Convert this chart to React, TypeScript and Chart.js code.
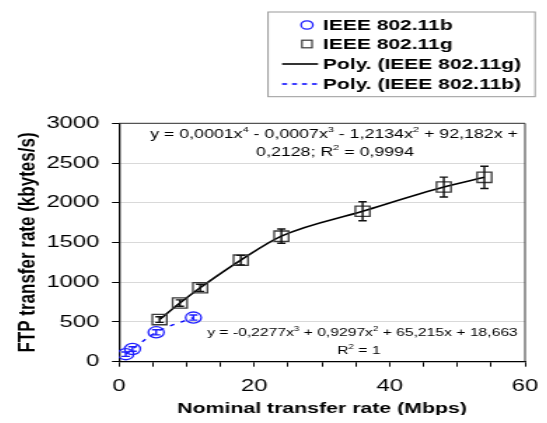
import React, { useEffect, useRef } from 'react';
import { Chart, registerables } from 'chart.js';

Chart.register(...registerables);

const FONT = "'Liberation Sans', Arial, Helvetica, sans-serif";
Chart.defaults.font.family = FONT;
Chart.defaults.color = '#000';

// ---- data ----
const gRates = [6, 9, 12, 18, 24, 36, 48, 54];
const gThroughput = [530, 738, 930, 1278, 1580, 1893, 2198, 2320];
const gError = [35, 40, 45, 60, 90, 120, 125, 140];

const bRates = [1, 2, 5.5, 11];
const bThroughput = [95, 160, 370, 555];
const bError = [28, 28, 32, 32];

const xLabelledTicks = [0, 20, 40, 60];
const yTickStep = 500;

const legendLabels = ['IEEE 802.11b', 'IEEE 802.11g', 'Poly. (IEEE 802.11g)', 'Poly. (IEEE 802.11b)'];

const xTitle = 'Nominal transfer rate (Mbps)';
const yTitle = 'FTP transfer rate (kbytes/s)';

type Seg = [string, boolean];
const eqGLine1: Seg[] = [['y = 0,0001x', false], ['4', true], [' - 0,0007x', false], ['3', true], [' - 1,2134x', false], ['2', true], [' + 92,182x +', false]];
const eqGLine2: Seg[] = [['0,2128; R', false], ['2', true], [' = 0,9994', false]];
const eqBLine1: Seg[] = [['y = -0,2277x', false], ['3', true], [' + 0,9297x', false], ['2', true], [' + 65,215x + 18,663', false]];
const eqBLine2: Seg[] = [['R', false], ['2', true], [' = 1', false]];

const BLUE = '#1f1fff';
const SQUARE = '#3a3a3a';

// canvas is drawn narrower and stretched horizontally, like the reference
const CW = 379;
const CH = 407;
const CSSW = 531;

function drawRich(ctx: CanvasRenderingContext2D, segs: Seg[], cx: number, cy: number, size: number) {
  const main = `${size}px ${FONT}`;
  const sup = `${size * 0.62}px ${FONT}`;
  let total = 0;
  for (const [t, s] of segs) {
    ctx.font = s ? sup : main;
    total += ctx.measureText(t).width;
  }
  let x = cx - total / 2;
  ctx.textAlign = 'left';
  ctx.textBaseline = 'middle';
  ctx.fillStyle = '#000';
  for (const [t, s] of segs) {
    ctx.font = s ? sup : main;
    ctx.fillText(t, x, s ? cy - size * 0.33 : cy);
    x += ctx.measureText(t).width;
  }
}

const overlayPlugin = {
  id: 'overlay',
  afterDatasetsDraw(chart: any) {
    const ctx: CanvasRenderingContext2D = chart.ctx;
    const xs = chart.scales.x;
    const ys = chart.scales.y;
    const drawErr = (xv: number[], yv: number[], ev: number[], color: string) => {
      ctx.save();
      ctx.strokeStyle = color;
      ctx.lineWidth = 1.4;
      xv.forEach((x, i) => {
        const px = xs.getPixelForValue(x);
        const t = ys.getPixelForValue(yv[i] + ev[i]);
        const b = ys.getPixelForValue(yv[i] - ev[i]);
        ctx.beginPath();
        ctx.moveTo(px, t);
        ctx.lineTo(px, b);
        ctx.moveTo(px - 3, t);
        ctx.lineTo(px + 3, t);
        ctx.moveTo(px - 3, b);
        ctx.lineTo(px + 3, b);
        ctx.stroke();
      });
      ctx.restore();
    };
    drawErr(gRates, gThroughput, gError, '#111');
    drawErr(bRates, bThroughput, bError, BLUE);

    const { left, right, top, bottom } = chart.chartArea;
    ctx.save();
    ctx.strokeStyle = '#333';
    ctx.lineWidth = 1;
    ctx.beginPath();
    ctx.moveTo(left, top);
    ctx.lineTo(right, top);
    ctx.lineTo(right, bottom);
    ctx.stroke();
    ctx.restore();
  },
  afterDraw(chart: any) {
    const ctx: CanvasRenderingContext2D = chart.ctx;
    ctx.save();
    // legend box
    ctx.strokeStyle = '#999';
    ctx.lineWidth = 1;
    ctx.strokeRect(185.6, 4, 190.6, 84.7);
    const rows = [17, 36, 56, 76];
    const symX = 213.4;
    ctx.strokeStyle = BLUE;
    ctx.lineWidth = 1.3;
    ctx.beginPath();
    ctx.arc(symX, rows[0], 4.2, 0, Math.PI * 2);
    ctx.stroke();
    ctx.strokeStyle = SQUARE;
    ctx.lineWidth = 1.2;
    ctx.strokeRect(symX - 3.6, rows[1] - 3.8, 7.2, 7.6);
    ctx.strokeStyle = '#000';
    ctx.lineWidth = 1.6;
    ctx.beginPath();
    ctx.moveTo(195.6, rows[2]);
    ctx.lineTo(221.3, rows[2]);
    ctx.stroke();
    ctx.strokeStyle = '#0000ff';
    ctx.lineWidth = 1.3;
    ctx.setLineDash([3.6, 3.5]);
    ctx.beginPath();
    ctx.moveTo(195.6, rows[3]);
    ctx.lineTo(221.3, rows[3]);
    ctx.stroke();
    ctx.setLineDash([]);
    ctx.fillStyle = '#000';
    ctx.font = `bold 15px ${FONT}`;
    ctx.textAlign = 'left';
    ctx.textBaseline = 'middle';
    legendLabels.forEach((l, i) => ctx.fillText(l, 224.8, rows[i] + 0.5));

    // trendline equations
    drawRich(ctx, eqGLine1, 232.7, 126, 12.7);
    drawRich(ctx, eqGLine2, 233.4, 144, 12.7);
    drawRich(ctx, eqBLine1, 253, 325, 11.2);
    drawRich(ctx, eqBLine2, 250.5, 343, 11.2);
    ctx.restore();
  },
};

export default function App() {
  const ref = useRef<HTMLCanvasElement>(null);
  useEffect(() => {
    const canvas = ref.current!;
    const gPts = gRates.map((x, i) => ({ x, y: gThroughput[i] }));
    const bPts = bRates.map((x, i) => ({ x, y: bThroughput[i] }));
    const tickFont = { family: FONT, size: 17 };
    const chart = new Chart(canvas, {
      type: 'scatter',
      data: {
        datasets: [
          { type: 'line', label: legendLabels[2], data: gPts, borderColor: '#000', borderWidth: 1.6, pointRadius: 0, cubicInterpolationMode: 'monotone', fill: false, order: 3 } as any,
          { type: 'line', label: legendLabels[3], data: bPts, borderColor: '#0000ff', borderWidth: 1.3, borderDash: [3.5, 5], pointRadius: 0, cubicInterpolationMode: 'monotone', fill: false, order: 3 } as any,
          { label: legendLabels[1], data: gPts, pointStyle: 'rect', pointRadius: 7.3, borderColor: SQUARE, borderWidth: 1.3, backgroundColor: 'rgba(0,0,0,0)', order: 1 },
          { label: legendLabels[0], data: bPts, pointStyle: 'circle', pointRadius: 5.6, borderColor: BLUE, borderWidth: 1.3, backgroundColor: 'rgba(0,0,0,0)', order: 1 },
        ],
      },
      options: {
        animation: false,
        responsive: false,
        events: [],
        layout: { padding: { top: 115.3, right: 10, left: 0, bottom: 0 } },
        plugins: { legend: { display: false }, tooltip: { enabled: false } },
        scales: {
          x: {
            type: 'linear', min: 0, max: 60,
            afterFit: (s: any) => { s.height = CH - 353.7; s.paddingLeft = 0; s.paddingRight = 0; },
            ticks: { stepSize: 5, autoSkip: false, maxRotation: 0, padding: 9, color: '#000', font: tickFont, callback: (v: any) => (xLabelledTicks.includes(Number(v)) ? String(v) : '') },
            grid: { drawOnChartArea: false, tickLength: 5, tickColor: '#000', tickWidth: 1 },
            border: { color: '#000', width: 1.3 },
            title: { display: true, text: xTitle, color: '#000', padding: 0, font: { family: FONT, size: 15.2, weight: 'bold', lineHeight: 0.75 } },
          },
          y: {
            min: 0, max: 3000,
            afterFit: (s: any) => { s.width = 79.2; },
            ticks: { stepSize: yTickStep, padding: 9, color: '#000', font: tickFont, callback: (v: any) => String(v) },
            grid: { color: '#d9d9d9', lineWidth: 1, tickLength: 5, tickColor: '#000' },
            border: { color: '#000', width: 1.3 },
            title: { display: true, text: yTitle, color: '#000', padding: { top: 4, bottom: 0 }, font: { family: FONT, size: 17, weight: 'bold' } },
          },
        },
      },
      plugins: [overlayPlugin],
    } as any);
    return () => chart.destroy();
  }, []);
  return (
    <div style={{ width: CSSW, height: CH }}>
      <canvas ref={ref} width={CW} height={CH} style={{ width: `${CSSW}px`, height: `${CH}px`, display: 'block' }} />
    </div>
  );
}
